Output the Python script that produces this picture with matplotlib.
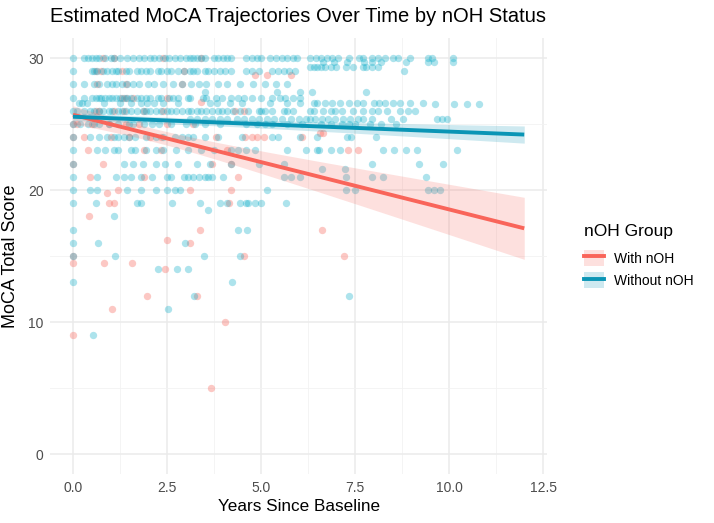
import numpy as np
import matplotlib
matplotlib.use("Agg")
import matplotlib.pyplot as plt
from matplotlib.patches import Patch
from matplotlib.lines import Line2D
from matplotlib.legend_handler import HandlerTuple

plt.rcParams['font.family'] = ['Liberation Sans', 'DejaVu Sans']

# ---------------- data ----------------
# Without nOH: MoCA score rows and the years at which observations sit on each row
without_scores = [30, 29.7, 29, 29.3, 28, 27.4, 27, 26.6, 26.5, 26, 25.4, 25, 24, 23, 22, 21.6, 21,
                  20, 19, 18.5, 18, 17, 16, 15, 14, 13, 12, 11, 9]
without_years = [
    [0.0, 0.3, 0.4, 0.5, 0.6, 0.7, 0.85, 1.0, 1.1, 1.25, 1.45, 1.6, 1.75, 1.9, 2.05, 2.15, 2.3, 2.45,
     2.55, 2.7, 2.85, 3.0, 3.1, 3.2, 3.3, 3.4, 3.5, 3.75, 3.85, 4.0, 4.1, 4.2, 4.6, 4.75, 4.9, 5.0,
     5.25, 5.4, 5.55, 5.7, 5.85, 5.95, 6.3, 6.45, 6.6, 6.75, 6.9, 7.05, 7.35, 7.6, 7.7, 7.95, 8.1,
     8.3, 8.5, 8.65, 8.95, 9.45, 9.55, 10.1],
    [6.65, 6.95, 7.3, 7.75, 7.95, 8.2, 8.85, 9.45, 9.6, 10.1],
    [0.0, 0.5, 0.55, 0.65, 0.8, 0.9, 1.05, 1.15, 1.2, 1.4, 1.5, 1.7, 1.8, 1.95, 2.05, 2.25, 2.35, 2.5,
     2.6, 2.8, 2.95, 3.1, 3.2, 3.3, 3.5, 3.6, 3.75, 3.9, 4.05, 4.2, 4.6, 4.75, 4.95, 5.3, 5.45, 5.6,
     5.75, 5.9, 8.8],
    [6.3, 6.4, 6.5, 6.6, 6.7, 6.85, 7.0, 7.25, 7.45, 7.7, 7.8, 7.95, 8.1],
    [0.0, 0.3, 0.55, 0.7, 0.9, 1.05, 1.15, 1.3, 1.45, 1.6, 1.75, 2.0, 2.15, 2.4, 2.65, 2.9, 3.15,
     3.35, 3.55, 3.85, 4.1, 4.45, 4.8, 5.1, 5.4, 5.7],
    [3.52, 5.42, 6.05, 6.35, 7.8],
    [0.0, 0.3, 0.5, 0.6, 0.7, 0.75, 0.85, 0.95, 1.05, 1.15, 1.25, 1.35, 1.45, 1.55, 1.7, 1.8, 1.95,
     2.05, 2.25, 2.35, 2.55, 2.65, 2.8, 3.05, 3.1, 3.45, 3.55, 3.8, 3.95, 4.2, 4.4, 4.55, 4.75, 5.0,
     5.3, 5.5, 5.65, 5.85, 6.05],
    [0.16, 0.25, 0.38, 0.82, 1.26, 1.53, 1.8, 1.97, 2.15, 2.4, 2.8, 3.65, 3.83, 4.18, 4.5, 5.25, 5.7,
     6.05, 6.4, 6.5, 6.7, 6.9, 7.1, 7.35, 7.55, 7.7, 8.0, 8.15, 8.3, 8.5, 8.7, 8.95, 9.3],
    [9.64, 10.13, 10.48, 10.8],
    [0.0, 0.1, 0.3, 0.45, 0.55, 0.7, 0.8, 0.95, 1.05, 1.2, 1.3, 1.4, 1.55, 1.7, 1.85, 1.95, 2.05, 2.2,
     2.35, 2.5, 2.6, 2.75, 2.9, 3.05, 3.15, 3.3, 3.4, 3.55, 3.7, 3.85, 3.95, 4.1, 4.25, 4.45, 4.65,
     4.95, 5.0, 5.1, 5.3, 5.6, 5.7, 5.85, 6.3, 6.4, 6.65, 6.85, 6.97, 7.15, 7.45, 7.7, 7.95, 8.1,
     8.35, 8.7, 8.9, 9.1],
    [3.1, 3.3, 3.5, 3.7, 3.9, 4.1, 4.35, 4.55, 4.75, 4.95, 5.15, 5.35, 5.55, 5.8, 6.0, 6.2, 6.3, 6.43,
     6.61, 6.79, 6.96, 7.19, 7.36, 7.59, 7.72, 7.94, 8.47, 8.78, 9.68, 9.82, 9.95],
    [0.0, 0.2, 0.4, 0.55, 0.7, 0.95, 1.2, 1.5, 1.6, 1.9, 2.1, 2.3, 2.6, 3.0, 3.25, 3.5, 3.9, 4.6, 4.9,
     5.1, 5.3, 5.7, 6.1, 6.6, 6.85, 7.15, 7.35, 7.5, 7.9, 8.2, 8.6],
    [0.0, 0.45, 0.7, 0.9, 1.1, 1.2, 1.35, 1.5, 1.65, 1.95, 2.2, 2.4, 2.7, 2.9, 3.05, 3.2, 3.5, 3.85,
     4.5, 5.3, 5.45, 6.05, 6.5, 7.3, 7.4, 8.05],
    [0.0, 0.65, 0.85, 1.1, 1.2, 1.55, 1.65, 1.95, 2.2, 2.4, 2.75, 3.05, 3.4, 3.75, 4.2, 4.4, 4.6, 4.85,
     5.7, 6.2, 6.5, 6.55, 6.85, 7.1, 8.25, 8.55, 8.85, 9.15, 10.2],
    [0.0, 1.35, 1.6, 1.85, 2.2, 2.45, 2.8, 3.3, 3.65, 4.2, 4.95, 5.6, 7.95, 9.2, 9.85],
    [6.61, 7.23],
    [0.0, 0.65, 1.15, 1.35, 1.55, 1.8, 2.1, 2.5, 2.6, 2.95, 3.07, 3.2, 3.35, 3.5, 3.6, 3.7, 4.0, 5.6,
     5.8, 6.05, 7.25, 7.95, 8.25, 9.4],
    [0.0, 0.45, 0.65, 1.45, 1.8, 2.2, 2.5, 2.7, 2.85, 5.15, 7.25, 7.5, 9.45, 9.6, 9.77],
    [0.0, 0.6, 1.7, 1.8, 2.63, 3.39, 3.9, 4.1, 4.45, 4.6, 4.65, 4.85, 5.0, 5.67],
    [3.6],
    [1.08],
    [0.0, 4.4, 4.63],
    [0.0, 0.66, 2.97],
    [0.0, 1.13, 3.48, 4.45],
    [2.25, 2.77, 3.06],
    [0.0, 4.23],
    [3.21, 7.33],
    [2.53],
    [0.53],
]

# With nOH
with_scores = [30, 29, 28.7, 28, 27, 26.7, 26, 25, 24.3, 24, 23, 22, 21, 20, 19.8, 19, 18, 17,
               16.2, 16, 15, 14.5, 14, 12, 11, 10, 9, 5]
with_years = [
    [0.8, 1.1, 2.4, 3.4],
    [0.6, 0.75, 1.3, 2.95],
    [4.85, 5.15, 5.8],
    [0.65, 1.4, 2.9],
    [1.3, 1.4, 1.6, 2.5],
    [3.4],
    [0.6, 0.7, 1.1, 1.35, 1.9, 2.4, 4.3, 4.55],
    [0.0, 0.1, 0.5, 0.95, 1.4, 1.75, 2.5, 3.2],
    [6.57, 6.65],
    [0.0, 0.3, 1.0, 1.5, 2.05, 2.35, 3.8, 4.58, 4.76, 4.9, 5.07, 6.09],
    [0.4, 1.9, 2.35, 4.1, 7.32, 7.59],
    [0.0, 0.8, 3.7, 4.2],
    [0.45, 1.9, 4.4],
    [1.2, 3.1, 4.2],
    [0.9],
    [0.96, 1.1, 4.15],
    [0.42],
    [3.39, 6.62],
    [2.5],
    [3.12],
    [0.0, 4.54, 7.2],
    [0.0, 0.82, 1.57],
    [2.44],
    [1.97, 3.3],
    [1.04],
    [4.03],
    [0.0],
    [3.68],
]

# fitted trajectories (intercept, slope) and CI half-width parameters
groups = ["With nOH", "Without nOH"]
intercepts = [25.7, 25.55]
slopes = [-0.717, -0.1125]
ci_min_halfwidth = [0.5, 0.25]
ci_center_year = [2.0, 2.5]
ci_spread = [0.2296, 0.0632]
fit_max_year = 12.0

x_ticks = [0.0, 2.5, 5.0, 7.5, 10.0, 12.5]
y_ticks = [0, 10, 20, 30]

colors = ["#F9655A", "#0A95B5"]
point_colors = ["#F8766D", "#00A9C6"]

# ---------------- plot ----------------
fig = plt.figure(figsize=(7.14, 5.23), dpi=100)
ax = fig.add_axes([50.4 / 714, 49.2 / 523, 496.4 / 714, 435.6 / 523])


def expand(scores, years):
    xs, ys = [], []
    for s, yl in zip(scores, years):
        xs.extend(yl)
        ys.extend([s] * len(yl))
    return np.array(xs), np.array(ys)


wx, wy = expand(with_scores, with_years)
ox, oy = expand(without_scores, without_years)
ax.scatter(wx, wy, s=28, color=point_colors[0], alpha=0.4, linewidths=0, zorder=2)
ax.scatter(ox, oy, s=28, color=point_colors[1], alpha=0.32, linewidths=0, zorder=2)

xs = np.linspace(0, fit_max_year, 100)
for i in range(2):
    fit = intercepts[i] + slopes[i] * xs
    hw = np.sqrt(ci_min_halfwidth[i] ** 2 + (ci_spread[i] * (xs - ci_center_year[i])) ** 2)
    ax.fill_between(xs, fit - hw, fit + hw, color=colors[i], alpha=0.2, linewidth=0, zorder=3)
for i in range(2):
    fit = intercepts[i] + slopes[i] * xs
    ax.plot(xs, fit, color=colors[i], lw=2.8, zorder=4, solid_capstyle='butt')

ax.set_xlim(-0.6, 12.6)
ax.set_ylim(-1.5, 31.5)
ax.set_xticks(x_ticks)
ax.set_xticklabels([f"{t:.1f}" for t in x_ticks])
ax.set_yticks(y_ticks)
ax.set_xticks([1.25, 3.75, 6.25, 8.75, 11.25], minor=True)
ax.set_yticks([5, 15, 25], minor=True)
ax.grid(True, which='major', color='#EBEBEB', lw=1.1, zorder=0)
ax.grid(True, which='minor', color='#F2F2F2', lw=0.6, zorder=0)
ax.set_axisbelow(True)
for sp in ax.spines.values():
    sp.set_visible(False)
ax.tick_params(which='both', length=0, labelsize=10, labelcolor='#4D4D4D', pad=5)

ax.set_xlabel("Years Since Baseline", fontsize=12.3, labelpad=3)
ax.set_ylabel("MoCA Total Score", fontsize=13, labelpad=6)

fig.text(50 / 714, 1 - 17 / 523, "Estimated MoCA Trajectories Over Time by nOH Status",
         fontsize=14.5, ha='left', va='center')

handles = []
for i in range(2):
    handles.append((Patch(facecolor=colors[i], alpha=0.2, edgecolor='none'),
                    Line2D([], [], color=colors[i], lw=2.8)))
leg = ax.legend(handles, groups, title="nOH Group", loc='center left',
                bbox_to_anchor=(1.05, 0.5), frameon=False, fontsize=10,
                title_fontsize=12.5, handler_map={tuple: HandlerTuple(ndivide=1)},
                handlelength=1.45, handleheight=1.4, labelspacing=0.45, handletextpad=0.7)
leg._legend_box.align = "left"
leg._legend_box.sep = 8

fig.savefig("out.png", dpi=100)
